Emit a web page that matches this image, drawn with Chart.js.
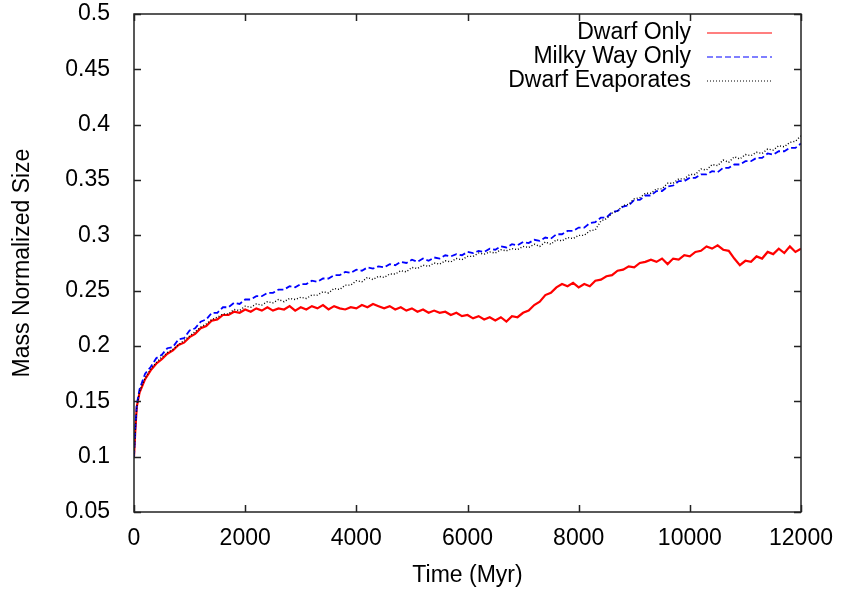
<!DOCTYPE html>
<html>
<head>
<meta charset="utf-8">
<title>Mass Normalized Size</title>
<script src="https://cdn.jsdelivr.net/npm/chart.js@4.4.1/dist/chart.umd.min.js"></script>
<style>
    html, body { margin: 0; padding: 0; background: #fff; }
    #wrap { width: 841px; height: 590px; }
</style>
</head>
<body>
<div id="wrap"><canvas id="size-chart" width="841" height="590"></canvas></div>
<script>
// Time grid (Myr): a few early samples, then every 100 Myr
var earlyTimes = [0, 25, 50];
var times = earlyTimes.slice();
for (var t = 100; t <= 12000; t += 100) times.push(t);

// Dwarf Only
var dwarfOnly = [
    0.100, 0.125, 0.145,
    0.158, 0.170, 0.178, 0.184, 0.188, 0.193, 0.196, 0.201, 0.203, 0.208,
    0.211, 0.216, 0.218, 0.223, 0.224, 0.228, 0.228, 0.231, 0.230, 0.233,
    0.231, 0.234, 0.232, 0.235, 0.232, 0.234, 0.233, 0.236, 0.232, 0.235,
    0.233, 0.236, 0.234, 0.237, 0.233, 0.236, 0.234, 0.233, 0.235, 0.234,
    0.237, 0.235, 0.238, 0.236, 0.234, 0.236, 0.233, 0.235, 0.232, 0.234,
    0.231, 0.233, 0.230, 0.232, 0.230, 0.231, 0.228, 0.230, 0.227, 0.228,
    0.225, 0.227, 0.224, 0.226, 0.223, 0.226, 0.222, 0.227, 0.226, 0.230,
    0.232, 0.237, 0.240, 0.246, 0.248, 0.253, 0.256, 0.254, 0.257, 0.253,
    0.256, 0.254, 0.259, 0.260, 0.263, 0.264, 0.268, 0.269, 0.272, 0.271,
    0.275, 0.276, 0.278, 0.276, 0.279, 0.274, 0.279, 0.278, 0.282, 0.281,
    0.285, 0.286, 0.290, 0.288, 0.291, 0.287, 0.286, 0.279, 0.273, 0.277,
    0.276, 0.281, 0.279, 0.285, 0.283, 0.288, 0.284, 0.290, 0.285, 0.288
];

// Milky Way Only
var milkyWayOnly = [
    0.100, 0.127, 0.147,
    0.161, 0.175, 0.181, 0.189, 0.192, 0.198, 0.199, 0.206, 0.207, 0.214,
    0.216, 0.222, 0.224, 0.230, 0.230, 0.235, 0.235, 0.239, 0.238, 0.242,
    0.242, 0.245, 0.245, 0.248, 0.248, 0.251, 0.251, 0.254, 0.253, 0.256,
    0.256, 0.259, 0.258, 0.261, 0.261, 0.264, 0.264, 0.267, 0.266, 0.269,
    0.268, 0.271, 0.270, 0.272, 0.271, 0.274, 0.273, 0.276, 0.275, 0.278,
    0.276, 0.279, 0.277, 0.280, 0.279, 0.282, 0.281, 0.283, 0.282, 0.285,
    0.284, 0.286, 0.285, 0.288, 0.287, 0.290, 0.289, 0.292, 0.291, 0.294,
    0.293, 0.296, 0.295, 0.298, 0.297, 0.301, 0.301, 0.304, 0.304, 0.307,
    0.307, 0.311, 0.312, 0.316, 0.316, 0.321, 0.322, 0.326, 0.327, 0.332,
    0.332, 0.336, 0.336, 0.340, 0.340, 0.344, 0.345, 0.349, 0.349, 0.352,
    0.352, 0.355, 0.355, 0.358, 0.357, 0.361, 0.361, 0.364, 0.364, 0.367,
    0.367, 0.370, 0.370, 0.374, 0.373, 0.376, 0.376, 0.379, 0.379, 0.383
];

// Dwarf Evaporates
var dwarfEvaporates = [
    0.100, 0.125, 0.145,
    0.159, 0.171, 0.179, 0.185, 0.190, 0.194, 0.197, 0.201, 0.205, 0.209,
    0.213, 0.217, 0.220, 0.224, 0.226, 0.229, 0.229, 0.233, 0.232, 0.236,
    0.235, 0.238, 0.237, 0.240, 0.239, 0.242, 0.240, 0.243, 0.242, 0.244,
    0.243, 0.246, 0.246, 0.249, 0.248, 0.252, 0.251, 0.255, 0.255, 0.259,
    0.258, 0.262, 0.260, 0.263, 0.262, 0.265, 0.265, 0.268, 0.267, 0.271,
    0.270, 0.273, 0.272, 0.275, 0.274, 0.277, 0.276, 0.279, 0.278, 0.281,
    0.281, 0.284, 0.283, 0.285, 0.284, 0.287, 0.286, 0.288, 0.287, 0.290,
    0.289, 0.292, 0.290, 0.294, 0.292, 0.296, 0.295, 0.298, 0.297, 0.300,
    0.300, 0.304, 0.305, 0.313, 0.315, 0.320, 0.322, 0.327, 0.328, 0.333,
    0.334, 0.338, 0.338, 0.342, 0.342, 0.347, 0.347, 0.351, 0.351, 0.355,
    0.355, 0.360, 0.359, 0.364, 0.363, 0.368, 0.366, 0.371, 0.369, 0.373,
    0.372, 0.375, 0.374, 0.378, 0.377, 0.381, 0.380, 0.384, 0.385, 0.390
];

var seriesNames = ["Dwarf Only", "Milky Way Only", "Dwarf Evaporates"];
var seriesColors = ["#ff0000", "#0000ff", "#000000"];
var seriesDash = [[], [6, 3], [1, 2]];
var xTicks = [0, 2000, 4000, 6000, 8000, 10000, 12000];
var yTicks = [0.05, 0.1, 0.15, 0.2, 0.25, 0.3, 0.35, 0.4, 0.45, 0.5];

var FONT = "'Liberation Sans', Arial, Helvetica, sans-serif";

function toPoints(values) {
    return values.map(function (v, i) { return {x: times[i], y: v}; });
}

// gnuplot style frame with inward ticks on all four sides
var framePlugin = {
    id: "frame",
    afterDatasetsDraw: function (chart) {
        var a = chart.chartArea, ctx = chart.ctx;
        var xs = chart.scales.x, ys = chart.scales.y, len = 7;
        ctx.save();
        ctx.strokeStyle = "#222";
        ctx.lineWidth = 1.5;
        ctx.beginPath();
        xTicks.forEach(function (v) {
            var px = Math.round(xs.getPixelForValue(v)) + 0.5;
            ctx.moveTo(px, a.bottom); ctx.lineTo(px, a.bottom - len);
            ctx.moveTo(px, a.top); ctx.lineTo(px, a.top + len);
        });
        yTicks.forEach(function (v) {
            var py = Math.round(ys.getPixelForValue(v)) + 0.5;
            ctx.moveTo(a.left, py); ctx.lineTo(a.left + len, py);
            ctx.moveTo(a.right, py); ctx.lineTo(a.right - len, py);
        });
        ctx.stroke();
        ctx.strokeRect(a.left, a.top, a.right - a.left, a.bottom - a.top);
        ctx.restore();
    }
};

// key in the top right corner: text right aligned, sample line after it
var keyPlugin = {
    id: "key",
    afterDraw: function (chart) {
        var c = chart.ctx;
        c.save();
        c.font = "23px " + FONT;
        c.textAlign = "right";
        c.textBaseline = "middle";
        for (var i = 0; i < seriesNames.length; i++) {
            var y = 33 + i * 24;
            c.fillStyle = "#000";
            c.fillText(seriesNames[i], 691, y);
            c.beginPath();
            c.setLineDash(seriesDash[i]);
            c.lineWidth = 1.2;
            c.strokeStyle = seriesColors[i];
            c.moveTo(707, y);
            c.lineTo(772, y);
            c.stroke();
        }
        c.restore();
    }
};

var ctx = document.getElementById("size-chart").getContext("2d");
var myChart = new Chart(ctx, {
    type: "line",
    data: {
        datasets: [{
            label: seriesNames[0],
            data: toPoints(dwarfOnly),
            borderColor: seriesColors[0],
            borderWidth: 2.2,
            pointRadius: 0,
            tension: 0,
            order: 3
        },
        {
            label: seriesNames[1],
            data: toPoints(milkyWayOnly),
            borderColor: seriesColors[1],
            borderWidth: 1.8,
            borderDash: seriesDash[1],
            pointRadius: 0,
            tension: 0,
            order: 2
        },
        {
            label: seriesNames[2],
            data: toPoints(dwarfEvaporates),
            borderColor: seriesColors[2],
            borderWidth: 1.4,
            borderDash: seriesDash[2],
            pointRadius: 0,
            tension: 0,
            order: 1
        }]
    },
    options: {
        responsive: false,
        animation: false,
        events: [],
        layout: {padding: {left: 0, top: 14, right: 40, bottom: 0}},
        plugins: {
            legend: {display: false},
            tooltip: {enabled: false}
        },
        scales: {
            x: {
                type: "linear",
                min: 0,
                max: 12000,
                afterFit: function (s) {
                    s.height = 78;
                    s.paddingLeft = 0;
                    s.paddingRight = 0;
                },
                afterBuildTicks: function (s) {
                    s.ticks = xTicks.map(function (v) { return {value: v}; });
                },
                grid: {display: false},
                border: {display: false},
                ticks: {
                    color: "#000",
                    font: {family: FONT, size: 23},
                    padding: 5,
                    maxRotation: 0,
                    callback: function (v) { return String(v); }
                },
                title: {
                    display: true,
                    text: "Time (Myr)",
                    color: "#000",
                    font: {family: FONT, size: 23},
                    padding: {top: 0, bottom: 1}
                }
            },
            y: {
                type: "linear",
                min: 0.05,
                max: 0.5,
                afterFit: function (s) {
                    s.width = 134;
                    s.paddingTop = 0;
                    s.paddingBottom = 0;
                },
                afterBuildTicks: function (s) {
                    s.ticks = yTicks.map(function (v) { return {value: v}; });
                },
                grid: {display: false},
                border: {display: false},
                ticks: {
                    color: "#000",
                    font: {family: FONT, size: 23},
                    padding: 16,
                    callback: function (v) { return String(Number(v.toFixed(2))); }
                },
                title: {
                    display: true,
                    text: "Mass Normalized Size",
                    color: "#000",
                    font: {family: FONT, size: 23},
                    padding: {top: 9, bottom: 0}
                }
            }
        }
    },
    plugins: [framePlugin, keyPlugin]
});
</script>
</body>
</html>
